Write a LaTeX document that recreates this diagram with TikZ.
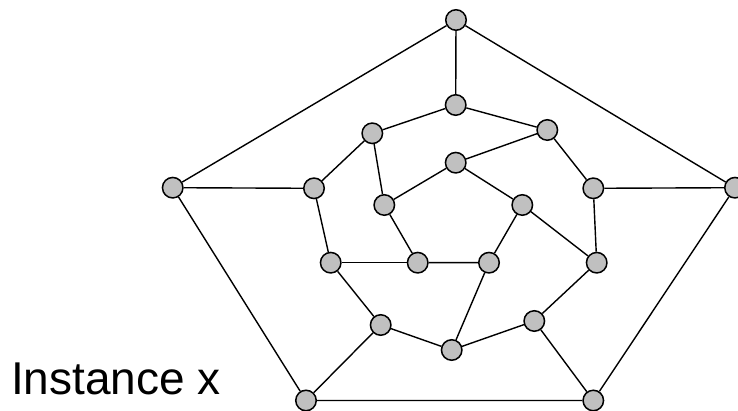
\documentclass[tikz,border=0pt]{standalone}
\usepackage{fontspec}
\setmainfont{Liberation Sans}
\definecolor{vertexgray}{RGB}{192,192,192}
\tikzset{
  vertex/.style={circle,draw=black,fill=vertexgray,line width=1.5pt,minimum size=20.5pt,inner sep=0pt},
  link/.style={line width=1.4pt}
}
\begin{document}
\begin{tikzpicture}[x=1pt,y=-1pt]
    \useasboundingbox (0,0) rectangle (738,411);
    % outer pentagon
    \node[vertex] (o1) at (456,20) {};
    \node[vertex] (o2) at (172.7,187.7) {};
    \node[vertex] (o3) at (306,400.5) {};
    \node[vertex] (o4) at (593.3,400.5) {};
    \node[vertex] (o5) at (735,187.7) {};
    % middle ring
    \node[vertex] (m1) at (455.7,105) {};
    \node[vertex] (m2) at (547.3,130) {};
    \node[vertex] (m3) at (593.3,188.3) {};
    \node[vertex] (m4) at (596.7,262.7) {};
    \node[vertex] (m5) at (534.3,321) {};
    \node[vertex] (m6) at (451.7,350) {};
    \node[vertex] (m7) at (380.7,325) {};
    \node[vertex] (m8) at (330.7,262.7) {};
    \node[vertex] (m9) at (314,188.3) {};
    \node[vertex] (m10) at (372.3,133.3) {};
    % inner pentagon
    \node[vertex] (i1) at (455.7,162.7) {};
    \node[vertex] (i2) at (522.3,205) {};
    \node[vertex] (i3) at (489,262.7) {};
    \node[vertex] (i4) at (417.7,262.7) {};
    \node[vertex] (i5) at (384.3,205) {};
    \draw[link] (o1) -- (o2) -- (o3) -- (o4) -- (o5) -- (o1);
    \draw[link] (i1) -- (i2) -- (i3) -- (i4) -- (i5) -- (i1);
    \foreach \a/\b in {m1/m2,m2/m3,m3/m4,m4/m5,m5/m6,m6/m7,m7/m8,m8/m9,m9/m10,m10/m1}
        \draw[link] (\a) -- (\b);
    \foreach \a/\b in {o1/m1,o2/m9,o3/m7,o4/m5,o5/m3,i1/m2,i2/m4,i3/m6,i4/m8,i5/m10}
        \draw[link] (\a) -- (\b);
    \node[anchor=base west,inner sep=0pt,font=\fontsize{46}{50}\selectfont] (label) at (11,394) {Instance x};
\end{tikzpicture}
\end{document}
